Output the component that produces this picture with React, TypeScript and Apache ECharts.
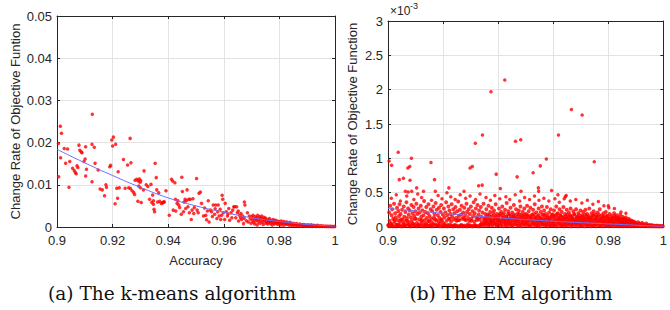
import React, { useEffect, useRef } from "react";
import * as echarts from "echarts";

// ---------- data ----------
const xTicks = [0.9, 0.92, 0.94, 0.96, 0.98, 1];
const kmTicks = [0, 0.01, 0.02, 0.03, 0.04, 0.05];
const emTicks = [0, 0.5, 1, 1.5, 2, 2.5, 3];

const kmeansPoints: [number, number][] = [
  [.9005,.0198],[.9006,.0119],[.9012,.0239],[.9016,.0222],[.9013,.0164],[.9026,.0186],[.9038,.0185],[.9031,.0151],[.9046,.0155],[.9043,.0094],[.9056,.0139],[.9062,.0134],[.9066,.0129],[.9069,.0126],[.9072,.0145],[.9075,.0141],[.9079,.0194],[.9082,.0182],[.9087,.0178],[.909,.0176],[.9097,.0155],[.9101,.0161],[.9103,.019],[.9103,.0121],[.9106,.0137],
  [.9127,.0267],[.9126,.0196],[.9134,.0189],[.9137,.0151],[.9126,.0107],[.9148,.0135],[.9155,.009],[.9163,.0088],[.9171,.0074],[.9176,.01],[.9178,.0094],[.919,.0143],[.9193,.0146],[.9197,.0206],[.92,.0192],[.9203,.0213],[.9211,.0196],
  [.9209,.0055],[.9215,.0092],[.9218,.0068],[.922,.0131],[.9224,.0093],[.9239,.016],[.9245,.0092],[.9254,.0147],[.9263,.021],[.9266,.0152],[.9258,.0093],[.9264,.0091],[.927,.0086],[.9276,.0082],[.9279,.0077],[.9281,.0111],[.9287,.0113],[.9292,.0109],[.9296,.0114],[.9299,.0106],[.9294,.0097],[.9301,.011],[.9291,.0061],[.9303,.0058],[.93,.0093],
  [.9313,.0133],[.9311,.0088],[.9321,.01],[.9327,.0096],[.9333,.0066],[.9338,.0101],[.9344,.0076],[.9347,.0054],[.9351,.0036],[.9349,.0042],[.9353,.0151],[.9357,.0117],[.9362,.0059],[.9366,.0081],[.9375,.0056],[.9381,.0058],[.9384,.006],[.9392,.0086],[.9341,.0058],[.9347,.0062],[.9359,.0088],[.9369,.0061],[.9379,.0057],[.9386,.0059],
  [.9404,.0028],[.9412,.0113],[.9416,.0109],[.9424,.0105],[.9418,.004],[.9426,.0066],[.9427,.0038],[.9432,.0056],[.9435,.0062],[.9441,.0046],[.9449,.0118],[.9447,.003],[.9451,.0084],[.9457,.0059],[.9461,.0066],[.9465,.0062],[.9468,.0088],[.9471,.0048],[.9476,.0034],[.9474,.0066],[.9479,.0066],[.9483,.0018],[.9486,.004],[.9489,.0067],[.9492,.0032],[.9438,.0052],[.9455,.0036],[.9463,.0044],[.9494,.0046],
  [.9502,.0115],[.9504,.004],[.9508,.0034],[.9511,.008],[.9516,.0083],[.952,.0056],[.9527,.0026],[.9535,.0028],[.9538,.0017],[.9544,.0062],[.9547,.0012],[.9552,.004],[.9556,.0036],[.9562,.0052],[.9567,.003],[.9571,.0052],[.9575,.002],[.9578,.0036],[.958,.0052],[.9583,.0026],[.9587,.0042],[.9594,.0075],[.9596,.0066],[.9598,.0034],[.9531,.0045],[.9541,.0038],[.9559,.0025],[.9569,.0043],[.9589,.0018],[.9592,.0028],
  [.9603,.0018],[.9605,.0056],[.9609,.0036],[.9613,.0026],[.9618,.0044],[.9621,.0016],[.9626,.0034],[.9632,.004],[.9636,.0048],[.9639,.0048],[.9643,.0022],[.9646,.0048],[.9649,.0034],[.9653,.0014],[.9657,.0028],[.966,.0022],[.9664,.0018],[.9668,.0026],[.9671,.0008],[.9674,.0059],[.9676,.0052],[.9673,.0021],[.9685,.0034],[.9681,.0015],[.9688,.0012],[.9692,.0026],[.9695,.0019],[.9698,.0009],[.9615,.0031],[.9629,.0022],[.9652,.0038],[.9662,.0032],
  [.9701,.0024],[.9703,.0016],[.9705,.0028],[.9707,.0011],[.9709,.002],[.9711,.0007],[.9713,.0025],[.9715,.0015],[.9717,.0019],[.9719,.0022],[.972,.0005],[.9722,.0028],[.9724,.0013],[.9726,.0018],[.9728,.0024],[.973,.0009],[.9732,.0021],[.9734,.0016],[.9736,.0026],[.9738,.0011],[.974,.0019],[.9742,.0006],[.9744,.0023],[.9746,.0014],[.9748,.0017],[.975,.0021],[.9752,.0009],[.9754,.0012],[.9756,.0018],[.9758,.0007],[.976,.0015],[.9762,.0011],[.9764,.002],[.9766,.0013],[.9768,.0008],[.977,.0016],[.9772,.0012],[.9774,.0005],[.9776,.0014],[.9778,.0018],[.978,.001],[.9782,.0007],[.9784,.0013],[.9786,.0016],[.9788,.0009],[.979,.0011],[.9792,.0014],[.9794,.0006],[.9796,.001],[.9798,.0013],
  [.98,.0008],[.9802,.0012],[.9805,.0005],[.9807,.0014],[.981,.0009],[.9812,.0011],[.9815,.0004],[.9817,.0013],[.982,.0008],[.9822,.001],[.9825,.0006],[.9827,.0012],[.983,.0007],[.9833,.0009],[.9836,.0004],[.9838,.0011],[.9841,.0006],[.9844,.0008],[.9847,.0003],[.985,.0009],[.9853,.0005],[.9856,.0007],[.9859,.0004],[.9862,.0008],[.9865,.0003],[.9868,.0006],[.9871,.0005],[.9874,.0007],[.9877,.0002],[.988,.0005],[.9883,.0004],[.9886,.0006],[.9889,.0003],[.9892,.0005],[.9895,.0002],[.9898,.0004],
  [.99,.0003],[.9903,.0005],[.9906,.0002],[.9909,.0004],[.9912,.0003],[.9915,.0005],[.9918,.0001],[.9921,.0003],[.9924,.0004],[.9927,.0002],[.993,.0003],[.9933,.0001],[.9936,.0004],[.9939,.0002],[.9942,.0003],[.9945,.0001],[.9948,.0002],[.9951,.0003],[.9954,.0001],[.9957,.0002],[.996,.0002],[.9963,.0001],[.9966,.0002],[.9969,.0001],[.9972,.0002],[.9975,.0001],[.9978,.0001],[.9981,.0002],[.9984,.0001],[.9987,.0001],[.999,.0001],[.9993,.0001],[.9996,.0001],[.9999,.0001],
];

const kmeansFit: [number, number][] = [
  [0.9,0.0184],[0.91,0.0152],[0.92,0.0122],[0.93,0.0094],[0.94,0.0069],[0.95,0.005],[0.96,0.0035],[0.97,0.0022],[0.98,0.0013],[0.99,0.0006],[1,0.0002],
];

// EM values in units of 1e-3
const emBand: [number, number][] = [
  [.9002,.02],[.9004,.21],[.9006,.09],[.9008,.31],[.9011,.05],[.9013,.17],[.9015,.26],[.9017,.01],[.9019,.12],[.9022,.34],[.9024,.07],[.9026,.2],[.9028,.14],[.9031,.03],[.9033,.28],[.9035,.1],[.9037,.23],[.9039,.04],[.904,.16],[.9042,.33],[.9044,.08],[.9046,.19],[.9048,.01],[.9051,.25],[.9053,.11],[.9055,.06],[.9057,.3],[.9059,.15],[.9061,.02],[.9063,.22],[.9065,.09],[.9067,.36],[.9069,.13],[.9071,.04],[.9073,.27],[.9075,.18],[.9077,.07],[.9079,.24],[.9081,.01],[.9083,.14],[.9085,.32],[.9087,.1],[.9089,.2],[.9091,.05],[.9093,.29],[.9095,.16],[.9097,.03],[.9099,.23],
  [.9101,.12],[.9103,.34],[.9105,.06],[.9107,.19],[.9109,.02],[.9111,.27],[.9113,.11],[.9115,.21],[.9117,.04],[.9119,.31],[.9121,.15],[.9123,.08],[.9125,.24],[.9127,.01],[.9129,.17],[.9131,.38],[.9133,.1],[.9135,.22],[.9137,.05],[.9139,.29],[.9141,.13],[.9143,.02],[.9145,.2],[.9147,.33],[.9149,.09],[.9151,.16],[.9153,.03],[.9155,.26],[.9157,.12],[.9159,.07],[.9161,.23],[.9163,.01],[.9165,.3],[.9167,.14],[.9169,.19],[.9171,.04],[.9173,.35],[.9175,.1],[.9177,.25],[.9179,.02],[.9181,.17],[.9183,.08],[.9185,.28],[.9187,.13],[.9189,.05],[.9191,.22],[.9193,.32],[.9195,.11],[.9197,.01],[.9199,.18],
  [.9201,.06],[.9203,.27],[.9205,.14],[.9207,.02],[.9209,.21],[.9211,.36],[.9213,.09],[.9215,.17],[.9217,.01],[.9219,.3],[.9221,.12],[.9223,.24],[.9225,.03],[.9227,.19],[.9229,.08],[.9231,.33],[.9233,.15],[.9235,.01],[.9237,.26],[.9239,.11],[.9241,.2],[.9243,.02],[.9245,.29],[.9247,.13],[.9249,.09],[.9251,.23],[.9253,.01],[.9255,.37],[.9257,.16],[.9259,.1],[.9261,.25],[.9263,.02],[.9265,.18],[.9267,.31],[.9269,.12],[.9271,.01],[.9273,.21],[.9275,.14],[.9277,.28],[.9279,.02],[.9281,.17],[.9283,.1],[.9285,.34],[.9287,.22],[.9289,.01],[.9291,.13],[.9293,.26],[.9295,.09],[.9297,.19],[.9299,.02],
  [.9301,.3],[.9303,.12],[.9305,.01],[.9307,.23],[.9309,.16],[.9311,.36],[.9313,.08],[.9315,.2],[.9317,.02],[.9319,.27],[.9321,.14],[.9323,.1],[.9325,.32],[.9327,.01],[.9329,.18],[.9331,.24],[.9333,.11],[.9335,.03],[.9337,.29],[.9339,.15],[.9341,.07],[.9343,.21],[.9345,.04],[.9347,.34],[.9349,.12],[.9351,.06],[.9353,.19],[.9355,.02],[.9357,.26],[.9359,.09],[.9361,.14],[.9363,.05],[.9365,.31],[.9367,.17],[.9369,.03],[.9371,.22],[.9373,.11],[.9375,.07],[.9377,.28],[.9379,.02],[.9381,.16],[.9383,.09],[.9385,.24],[.9387,.05],[.9389,.13],[.9391,.33],[.9393,.03],[.9395,.19],[.9397,.08],[.9399,.12],
  [.9401,.04],[.9403,.27],[.9405,.1],[.9407,.17],[.9409,.02],[.9411,.22],[.9413,.07],[.9415,.3],[.9417,.13],[.9419,.01],[.9421,.2],[.9423,.09],[.9425,.25],[.9427,.05],[.9429,.15],[.9431,.35],[.9433,.03],[.9435,.11],[.9437,.23],[.9439,.07],[.9441,.18],[.9443,.02],[.9445,.28],[.9447,.12],[.9449,.06],[.9451,.21],[.9453,.01],[.9455,.16],[.9457,.32],[.9459,.09],[.9461,.14],[.9463,.04],[.9465,.26],[.9467,.11],[.9469,.19],[.9471,.02],[.9473,.08],[.9475,.24],[.9477,.13],[.9479,.05],[.9481,.3],[.9483,.17],[.9485,.01],[.9487,.1],[.9489,.22],[.9491,.06],[.9493,.14],[.9495,.27],[.9497,.03],[.9499,.12],
  [.9501,.19],[.9503,.07],[.9505,.31],[.9507,.02],[.9509,.15],[.9511,.23],[.9513,.1],[.9515,.04],[.9517,.28],[.9519,.13],[.9521,.01],[.9523,.18],[.9525,.08],[.9527,.25],[.9529,.05],[.9531,.14],[.9533,.33],[.9535,.02],[.9537,.11],[.9539,.21],[.9541,.06],[.9543,.16],[.9545,.03],[.9547,.27],[.9549,.09],[.9551,.13],[.9553,.01],[.9555,.22],[.9557,.07],[.9559,.3],[.9561,.12],[.9563,.04],[.9565,.17],[.9567,.24],[.9569,.02],[.9571,.1],[.9573,.19],[.9575,.05],[.9577,.29],[.9579,.14],[.9581,.01],[.9583,.08],[.9585,.21],[.9587,.11],[.9589,.03],[.9591,.26],[.9593,.15],[.9595,.06],[.9597,.18],[.9599,.02],
  [.9601,.12],[.9603,.24],[.9605,.04],[.9607,.17],[.9609,.09],[.9611,.3],[.9613,.01],[.9615,.14],[.9617,.2],[.9619,.06],[.9621,.11],[.9623,.26],[.9625,.02],[.9627,.16],[.9629,.08],[.9631,.22],[.9633,.04],[.9635,.13],[.9637,.29],[.9639,.01],[.9641,.1],[.9643,.19],[.9645,.06],[.9647,.15],[.9649,.25],[.9651,.02],[.9653,.12],[.9655,.08],[.9657,.21],[.9659,.04],[.9661,.17],[.9663,.27],[.9665,.01],[.9667,.1],[.9669,.14],[.9671,.05],[.9673,.23],[.9675,.09],[.9677,.18],[.9679,.02],[.9681,.12],[.9683,.26],[.9685,.06],[.9687,.15],[.9689,.01],[.9691,.2],[.9693,.09],[.9695,.13],[.9697,.04],[.9699,.24],
  [.9701,.11],[.9703,.02],[.9705,.17],[.9707,.07],[.9709,.22],[.9711,.13],[.9713,.01],[.9715,.09],[.9717,.25],[.9719,.15],[.9721,.04],[.9723,.19],[.9725,.1],[.9727,.02],[.9729,.14],[.9731,.27],[.9733,.06],[.9735,.12],[.9737,.01],[.9739,.2],[.9741,.08],[.9743,.16],[.9745,.03],[.9747,.23],[.9749,.11],[.9751,.05],[.9753,.18],[.9755,.01],[.9757,.13],[.9759,.08],[.9761,.21],[.9763,.03],[.9765,.15],[.9767,.1],[.9769,.26],[.9771,.02],[.9773,.12],[.9775,.06],[.9777,.17],[.9779,.01],[.9781,.09],[.9783,.2],[.9785,.04],[.9787,.14],[.9789,.07],[.9791,.22],[.9793,.02],[.9795,.11],[.9797,.16],[.9799,.05],
  [.9801,.13],[.9803,.01],[.9805,.19],[.9807,.07],[.9809,.1],[.9811,.03],[.9813,.16],[.9815,.05],[.9817,.12],[.9819,.01],[.9821,.2],[.9823,.08],[.9825,.14],[.9827,.02],[.9829,.1],[.9831,.17],[.9833,.04],[.9835,.09],[.9837,.01],[.9839,.13],[.9841,.06],[.9843,.18],[.9845,.02],[.9847,.11],[.9849,.07],[.9851,.15],[.9853,.01],[.9855,.09],[.9857,.04],[.9859,.12],[.9861,.02],[.9863,.14],[.9865,.06],[.9867,.1],[.9869,.01],[.9871,.08],[.9873,.12],[.9875,.03],[.9877,.07],[.9879,.1],[.9881,.01],[.9883,.05],[.9885,.09],[.9887,.02],[.9889,.06],[.9891,.08],[.9893,.01],[.9895,.04],[.9897,.07],[.9899,.02],
  [.9902,.05],[.9905,.01],[.9908,.07],[.9911,.03],[.9914,.05],[.9917,.01],[.992,.04],[.9923,.06],[.9926,.02],[.9929,.04],[.9932,.01],[.9935,.03],[.9938,.05],[.9941,.02],[.9944,.01],[.9947,.03],[.995,.02],[.9953,.01],[.9956,.03],[.9959,.01],[.9962,.02],[.9965,.01],[.9968,.02],[.9971,.01],[.9974,.01],[.9977,.02],[.998,.01],[.9983,.01],[.9986,.01],[.9989,.01],[.9992,.01],[.9995,.01],[.9998,.01],
];

const emLow: [number, number][] = [
  [.9001,.03],[.9007,.01],[.9012,.04],[.9018,.02],[.9023,.1],[.9029,.01],[.9034,.03],[.9041,.02],[.9047,.11],[.9052,.01],[.9058,.04],[.9064,.02],[.907,.09],[.9076,.03],[.9082,.01],[.9088,.05],[.9094,.02],[.9098,.12],[.9104,.01],[.911,.03],[.9116,.02],[.9122,.1],[.9128,.04],[.9134,.01],[.914,.03],[.9146,.08],[.9152,.02],[.9158,.01],[.9164,.04],[.917,.11],[.9176,.02],[.9182,.03],[.9188,.01],[.9194,.09],[.92,.02],[.9206,.04],[.9212,.01],[.9218,.03],[.9224,.12],[.923,.02],[.9236,.01],[.9242,.03],[.9248,.02],[.9254,.1],[.926,.01],[.9266,.03],[.9272,.02],[.9278,.11],[.9284,.01],[.929,.04],[.9296,.02],[.9302,.09],[.9308,.01],[.9314,.03],[.932,.02],[.9326,.12],[.9332,.01],[.9338,.04],[.9344,.02],[.935,.1],
  [.9353,.05],[.9356,.14],[.9358,.08],[.9362,.18],[.9364,.03],[.9368,.11],[.937,.06],[.9374,.15],[.9376,.09],[.938,.04],[.9382,.2],[.9386,.12],[.9388,.07],[.9392,.16],[.9394,.02],[.9398,.1],[.94,.14],[.9404,.06],[.9406,.19],[.941,.09],[.9412,.04],[.9416,.13],[.9418,.17],[.9422,.07],[.9424,.11],[.9428,.03],[.943,.15],[.9434,.08],[.9436,.19],[.944,.12],[.9442,.05],[.9446,.16],[.9448,.09],[.9452,.03],[.9454,.13],[.9458,.18],[.946,.07],[.9464,.11],[.9466,.04],[.947,.15],[.9472,.09],[.9476,.19],[.9478,.02],[.9482,.12],[.9484,.06],[.9488,.16],[.949,.1],[.9494,.04],[.9496,.18],[.95,.08],
  [.9502,.13],[.9506,.05],[.9508,.17],[.9512,.09],[.9514,.02],[.9518,.12],[.952,.16],[.9524,.06],[.9526,.1],[.953,.19],[.9532,.04],[.9536,.14],[.9538,.08],[.9542,.11],[.9544,.02],[.9548,.17],[.955,.06],[.9554,.13],[.9556,.09],[.956,.04],[.9562,.18],[.9566,.1],[.9568,.07],[.9572,.14],[.9574,.03],[.9578,.11],[.958,.16],[.9584,.05],[.9586,.09],[.959,.13],[.9592,.02],[.9596,.18],[.9598,.08],
  [.9602,.06],[.9604,.15],[.9608,.1],[.961,.03],[.9614,.19],[.9616,.08],[.962,.13],[.9622,.05],[.9626,.17],[.9628,.11],[.9632,.02],[.9634,.09],[.9638,.15],[.964,.06],[.9644,.12],[.9646,.03],[.965,.18],[.9652,.08],[.9656,.14],[.9658,.05],[.9662,.1],[.9664,.16],[.9668,.03],[.967,.12],[.9674,.07],[.9676,.19],[.968,.09],[.9682,.04],[.9686,.14],[.9688,.1],[.9692,.06],[.9694,.17],[.9698,.02],
  [.97,.13],[.9704,.08],[.9706,.15],[.971,.04],[.9712,.11],[.9716,.18],[.9718,.07],[.9722,.12],[.9724,.03],[.9728,.16],[.973,.09],[.9734,.05],[.9736,.14],[.974,.11],[.9742,.02],[.9746,.17],[.9748,.07],[.9752,.12],[.9754,.04],[.9758,.15],[.976,.09],[.9764,.06],[.9766,.18],[.977,.1],[.9772,.03],[.9776,.13],[.9778,.08],[.9782,.15],[.9784,.05],[.9788,.11],[.979,.02],[.9794,.16],[.9796,.08],
  [.98,.05],[.9802,.12],[.9806,.09],[.9808,.03],[.9812,.14],[.9814,.07],[.9818,.1],[.982,.04],[.9824,.16],[.9826,.06],[.983,.12],[.9832,.02],[.9836,.09],[.9838,.14],[.9842,.05],[.9844,.11],[.9848,.03],[.985,.08],[.9854,.12],[.9856,.04],[.986,.07],[.9862,.1],[.9866,.03],[.9868,.07],[.9872,.05],[.9874,.09],[.9878,.02],[.988,.06],[.9884,.03],[.9886,.07],[.989,.04],[.9892,.02],[.9896,.05],[.9898,.03],
];

const emMid: [number, number][] = [
  [.9012,.42],[.9045,.38],[.9068,.45],[.9094,.4],[.9108,.48],[.9122,.43],[.9158,.39],[.9182,.46],[.9196,.41],[.9214,.5],[.9228,.44],[.9244,.4],[.9262,.47],[.9282,.42],[.9298,.45],[.9318,.4],[.9334,.48],[.9356,.43],[.9372,.39],[.9388,.46],[.9406,.41],[.9428,.44],[.9442,.4],[.9462,.47],[.9478,.38],[.9496,.43],[.9514,.4],[.9532,.45],[.9548,.39],[.9566,.42],[.9584,.38],[.9606,.41],[.9622,.36],[.9644,.44],[.9662,.38],[.9682,.4],[.9704,.35],[.9724,.39],[.9744,.33],[.9764,.37],[.9784,.31],[.9802,.28],[.9822,.27],[.9846,.22],[.9864,.2],
];

const emOutliers: [number, number][] = [
  [.9004,.96],[.9013,.9],[.9037,1.09],[.903,.47],[.9041,.69],[.9056,.71],[.9063,.52],[.9072,.86],[.9079,.88],[.9085,1.0],[.908,.68],[.9073,.51],[.9086,.52],[.9104,.57],[.9129,.52],[.9156,.94],[.9169,.69],[.9172,.52],[.9221,.57],[.9276,.52],[.9298,.86],[.9306,.88],[.9317,1.22],[.9343,1.34],[.9329,.6],[.9342,.61],[.9374,1.97],[.9393,.77],[.9408,.56],[.9424,2.14],[.9463,1.25],[.9469,.73],[.9482,1.27],[.9483,.52],[.9527,.79],[.9546,.57],[.9547,.52],[.9553,.89],[.9575,.99],[.9594,.53],[.9619,1.34],[.9666,1.71],[.9705,1.63],[.9647,.46],[.964,.41],[.9617,.47],[.9749,.95],[.98,.31],
];

const emFit: [number, number][] = [
  [0.9,0.27],[0.92,0.2],[0.94,0.135],[0.96,0.085],[0.98,0.045],[1,0.01],
];

// ---------- styling ----------
const TXT = "#262626";
const FONT = "Liberation Sans, Arial, sans-serif";
const SERIF = "DejaVu Serif, serif";
const GRIDC = "#e3e3e3";
const RED = "#ff0000";
const BLUE = "#7070ff";

function fmtX(v: number) {
  return String(+v.toFixed(2));
}

export default function App() {
  const ref = useRef<HTMLDivElement>(null);
  useEffect(() => {
    if (!ref.current) return;
    const chart = echarts.init(ref.current, undefined, { renderer: "svg" });

    const bottomX = (grid: number) => ({
      type: "value",
      gridIndex: grid,
      min: xTicks[0],
      max: xTicks[xTicks.length - 1],
      interval: 0.02,
      position: "bottom",
      name: "Accuracy",
      nameLocation: "middle",
      nameGap: 27,
      nameTextStyle: { color: TXT, fontSize: 13, fontFamily: FONT },
      axisLine: { show: true, onZero: false, lineStyle: { color: TXT, width: 1 } },
      axisTick: { show: true, inside: true, length: 3, lineStyle: { color: TXT } },
      axisLabel: { color: TXT, fontSize: 13, fontFamily: FONT, margin: 7, formatter: fmtX },
      splitLine: { show: true, lineStyle: { color: GRIDC, width: 1 } },
    });
    const topX = (grid: number) => ({
      type: "value",
      gridIndex: grid,
      min: xTicks[0],
      max: xTicks[xTicks.length - 1],
      interval: 0.02,
      position: "top",
      axisLine: { show: true, onZero: false, lineStyle: { color: TXT, width: 1 } },
      axisTick: { show: true, inside: true, length: 3, lineStyle: { color: TXT } },
      axisLabel: { show: false },
      splitLine: { show: false },
    });
    const leftY = (grid: number, ticks: number[], interval: number, name: string, gap: number) => ({
      type: "value",
      gridIndex: grid,
      min: ticks[0],
      max: ticks[ticks.length - 1],
      interval,
      position: "left",
      name,
      nameLocation: "middle",
      nameGap: gap,
      nameTextStyle: { color: TXT, fontSize: 13, fontFamily: FONT },
      axisLine: { show: true, onZero: false, lineStyle: { color: TXT, width: 1 } },
      axisTick: { show: true, inside: true, length: 3, lineStyle: { color: TXT } },
      axisLabel: { color: TXT, fontSize: 13, fontFamily: FONT, margin: 5, formatter: (v: number) => String(+v.toFixed(3)) },
      splitLine: { show: true, lineStyle: { color: GRIDC, width: 1 } },
    });
    const rightY = (grid: number, ticks: number[], interval: number) => ({
      type: "value",
      gridIndex: grid,
      min: ticks[0],
      max: ticks[ticks.length - 1],
      interval,
      position: "right",
      axisLine: { show: true, onZero: false, lineStyle: { color: TXT, width: 1 } },
      axisTick: { show: true, inside: true, length: 3, lineStyle: { color: TXT } },
      axisLabel: { show: false },
      splitLine: { show: false },
    });
    const dots = (xi: number, yi: number, data: [number, number][], size: number) => ({
      type: "scatter",
      xAxisIndex: xi,
      yAxisIndex: yi,
      data,
      symbol: "circle",
      symbolSize: size,
      itemStyle: { color: RED },
      z: 2,
    });

    chart.setOption({
      animation: false,
      backgroundColor: "#ffffff",
      grid: [
        { left: 57, top: 16, width: 278, height: 211 },
        { left: 388, top: 21, width: 281, height: 206 },
      ],
      xAxis: [bottomX(0), topX(0), bottomX(1), topX(1)],
      yAxis: [
        leftY(0, kmTicks, 0.01, "Change Rate of Objective Funtion", 35),
        rightY(0, kmTicks, 0.01),
        leftY(1, emTicks, 0.5, "Change Rate of Objective Function", 29),
        rightY(1, emTicks, 0.5),
      ],
      series: [
        dots(0, 0, kmeansPoints, 3.5),
        {
          type: "line",
          xAxisIndex: 0,
          yAxisIndex: 0,
          data: kmeansFit,
          smooth: true,
          showSymbol: false,
          lineStyle: { color: BLUE, width: 1 },
          z: 3,
        },
        dots(2, 2, emBand, 4),
        dots(2, 2, emLow, 4),
        dots(2, 2, emMid, 3.5),
        dots(2, 2, emOutliers, 3.5),
        {
          type: "line",
          xAxisIndex: 2,
          yAxisIndex: 2,
          data: emFit,
          smooth: true,
          showSymbol: false,
          lineStyle: { color: BLUE, width: 1 },
          z: 3,
        },
      ],
      graphic: [
        {
          type: "text",
          left: 390,
          top: 5,
          style: { text: "×10", fill: TXT, fontSize: 12, fontFamily: FONT },
        },
        {
          type: "text",
          left: 410,
          top: 1,
          style: { text: "-3", fill: TXT, fontSize: 9, fontFamily: FONT },
        },
        {
          type: "text",
          x: 172,
          y: 293,
          style: {
            text: "(a) The k-means algorithm",
            fill: "#111111",
            fontSize: 18.5,
            fontFamily: SERIF,
            align: "center",
            verticalAlign: "middle",
          },
        },
        {
          type: "text",
          x: 511,
          y: 293,
          style: {
            text: "(b) The EM algorithm",
            fill: "#111111",
            fontSize: 18.5,
            fontFamily: SERIF,
            align: "center",
            verticalAlign: "middle",
          },
        },
      ],
    });
    return () => chart.dispose();
  }, []);

  return (
    <div
      ref={ref}
      style={{ position: "absolute", left: 0, top: 0, width: 670, height: 310, background: "#fff" }}
    />
  );
}
